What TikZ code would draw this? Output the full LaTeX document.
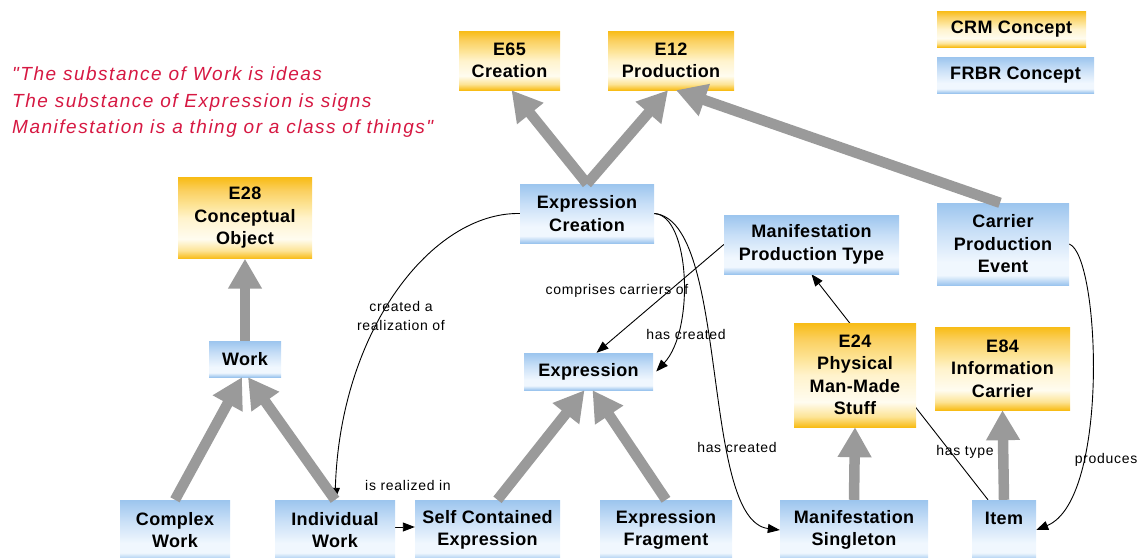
\documentclass[tikz,border=0pt]{standalone}
\usepackage{fontspec}
\setmainfont{Liberation Sans}
\newfontfamily\boxfont[LetterSpace=2]{Liberation Sans}
\newfontfamily\lblfont[LetterSpace=5]{Liberation Sans}
\newfontfamily\quotefont[LetterSpace=8]{Liberation Sans}
\usetikzlibrary{arrows.meta,calc}

\definecolor{orD}{RGB}{248,188,22}
\definecolor{orM}{RGB}{251,208,96}
\definecolor{orL}{RGB}{253,228,150}
\definecolor{orV}{RGB}{255,243,204}
\definecolor{orW}{RGB}{255,252,240}
\definecolor{blD}{RGB}{156,197,238}
\definecolor{blL}{RGB}{200,223,247}
\definecolor{blW}{RGB}{240,247,254}
\definecolor{arrgray}{RGB}{154,154,154}
\definecolor{quotered}{RGB}{214,24,66}

\pgfdeclareverticalshading{crmshade}{100bp}{color(0bp)=(orD); color(25bp)=(orD); color(30bp)=(orL); color(37bp)=(orW); color(50bp)=(orV); color(58bp)=(orL); color(67bp)=(orM); color(75bp)=(orD); color(100bp)=(orD)}
\pgfdeclareverticalshading{frbrshade}{100bp}{color(0bp)=(blD); color(25bp)=(blD); color(31bp)=(blW); color(39bp)=(blW); color(58bp)=(blL); color(75bp)=(blD); color(100bp)=(blD)}

\pgfdeclarelayer{bg}
\pgfsetlayers{bg,main}

\tikzset{
  box/.style={inner sep=0pt, align=center, text=black,
    font={\boxfont\bfseries\fontsize{18pt}{22.5pt}\selectfont}},
  crm/.style={box, shade, shading=crmshade},
  frbr/.style={box, shade, shading=frbrshade},
  lbl/.style={inner sep=0pt, align=center, text=black,
    font={\lblfont\fontsize{14pt}{19pt}\selectfont}},
  quote/.style={inner sep=0pt, align=left, text=quotered,
    font={\quotefont\itshape\fontsize{19pt}{26.5pt}\selectfont}},
  garrow/.style={draw=arrgray, line width=10.5pt, -{Triangle[width=32pt,length=30pt]}},
  tarrow/.style={draw=black, line width=0.9pt, -{Triangle[width=9pt,length=12pt]}},
}

\begin{document}
\begin{tikzpicture}[x=1pt,y=-1pt]
\useasboundingbox (0,0) rectangle (1140,557);

% quote
\node[quote, anchor=west] (q) at (12,102.5) {"The substance of Work is ideas\\The substance of Expression is signs\\Manifestation is a thing or a class of things"};

% CRM concepts
\node[crm, minimum width=101pt, minimum height=59pt] (e65) at (509.5,60.5) {E65\\Creation};
\node[crm, minimum width=126pt, minimum height=59pt] (e12) at (671,60.5) {E12\\Production};
\node[crm, minimum width=149pt, minimum height=36pt] (crmleg) at (1011.5,29) {CRM Concept};
\node[crm, minimum width=134pt, minimum height=81pt] (e28) at (245,218) {E28\\Conceptual\\Object};
\node[crm, minimum width=122pt, minimum height=104pt] (e24) at (855,375) {E24\\Physical\\Man-Made\\Stuff};
\node[crm, minimum width=135pt, minimum height=83pt] (e84) at (1002.5,368.5) {E84\\Information\\Carrier};

% FRBR concepts
\node[frbr, minimum width=157pt, minimum height=36pt] (frbrleg) at (1015.5,75) {FRBR Concept};
\node[frbr, minimum width=72pt, minimum height=36pt] (work) at (245,359) {Work};
\node[frbr, minimum width=134pt, minimum height=59pt] (ec) at (587,213.5) {Expression\\Creation};
\node[frbr, minimum width=175pt, minimum height=59pt] (mpt) at (811.5,244.5) {Manifestation\\Production Type};
\node[frbr, minimum width=132pt, minimum height=82pt] (cpe) at (1003,244) {Carrier\\Production\\Event};
\node[frbr, minimum width=129pt, minimum height=37pt] (expr) at (588.5,371.5) {Expression};
\node[frbr, minimum width=110pt, minimum height=60pt] (cw) at (175,530) {Complex\\Work};
\node[frbr, minimum width=120pt, minimum height=60pt] (iw) at (335,530) {Individual\\Work};
\node[frbr, minimum width=145pt, minimum height=60pt] (sce) at (487.5,530) {Self Contained\\Expression};
\node[frbr, minimum width=132pt, minimum height=60pt] (ef) at (666,530) {Expression\\Fragment};
\node[frbr, minimum width=148pt, minimum height=60pt] (ms) at (854,530) {Manifestation\\Singleton};
\node[frbr, minimum width=64pt, minimum height=60pt] (item) at (1004,530) {Item\\\phantom{I}};

% thin relations (behind boxes)
\begin{pgfonlayer}{bg}
\draw[tarrow] (ec.west) .. controls (432,212) and (340,330) .. (iw.north);
\draw[tarrow] (ec.east) .. controls (690,215) and (695,330) .. ([xshift=3pt]expr.east);
\draw[tarrow] (ec.east) .. controls (730,220) and (700,520) .. (ms.west);
\draw[tarrow] (mpt.west) -- ([xshift=8pt]expr.north);
\draw[tarrow] ([xshift=-16pt]item.north) -- (mpt.south);
\draw[tarrow] (cpe.east) .. controls (1100,255) and (1110,500) .. (item.east);
\draw[tarrow] ([yshift=3pt]iw.east) -- ([yshift=3pt]sce.west);
\end{pgfonlayer}

% labels
\node[lbl] (l1) at (401,316) {created a\\realization of};
\node[lbl] (l2) at (617,291) {comprises carriers of};
\node[lbl] (l3) at (686,334) {has created};
\node[lbl] (l4) at (737,447) {has created};
\node[lbl] (l5) at (965,452) {has type};
\node[lbl] (l6) at (1106,460) {produces};
\node[lbl] (l7) at (408,485) {is realized in};

% thick gray arrows
\draw[garrow] (ec.north) -- ([xshift=2pt]e65.south);
\draw[garrow] (ec.north) -- ([xshift=-3pt]e12.south);
\draw[garrow] ([xshift=-3pt]cpe.north) -- ([xshift=5pt]e12.south);
\draw[garrow] (work.north) -- (e28.south);
\draw[garrow] (cw.north) -- ([xshift=-3pt]work.south);
\draw[garrow] (iw.north) -- ([xshift=3pt]work.south);
\draw[garrow] ([xshift=10pt]sce.north) -- ([xshift=-4pt]expr.south);
\draw[garrow] (ef.north) -- ([xshift=4pt]expr.south);
\draw[garrow] (ms.north) -- (e24.south);
\draw[garrow] (item.north) -- (e84.south);
\end{tikzpicture}
\end{document}
